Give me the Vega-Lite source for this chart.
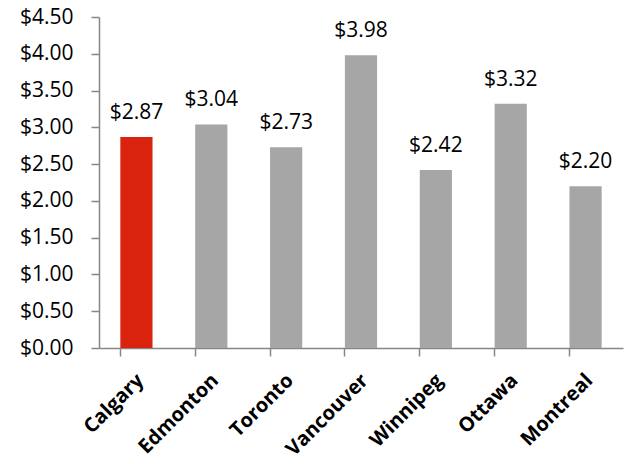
{
  "$schema": "https://vega.github.io/schema/vega-lite/v6.json",
  "autosize": {"type": "none"},
  "padding": {"left": 99, "top": 17, "right": 5, "bottom": 116},
  "width": 524,
  "height": 331,
  "background": "white",
  "config": {"view": {"stroke": null}, "font": "Open Sans"},
  "data": {"values": [
    {"city": "Calgary", "price": 2.87, "highlight": "yes"},
    {"city": "Edmonton", "price": 3.04, "highlight": "no"},
    {"city": "Toronto", "price": 2.73, "highlight": "no"},
    {"city": "Vancouver", "price": 3.98, "highlight": "no"},
    {"city": "Winnipeg", "price": 2.42, "highlight": "no"},
    {"city": "Ottawa", "price": 3.32, "highlight": "no"},
    {"city": "Montreal", "price": 2.20, "highlight": "no"}
  ]},
  "encoding": {
    "x": {"field": "city", "type": "nominal", "sort": null,
      "scale": {"paddingInner": 0.57, "paddingOuter": 0.285},
      "axis": {"title": null, "labelAngle": -45, "labelAlign": "right", "labelBaseline": "middle",
        "labelFontSize": 20, "labelFontWeight": "bold", "labelColor": "#000000", "labelPadding": 21,
        "labelOffset": 4,
        "domainColor": "#868686", "domainWidth": 1.5, "tickColor": "#868686", "tickWidth": 1.5, "tickSize": 8,
        "bandPosition": 0}},
    "y": {"field": "price", "type": "quantitative",
      "scale": {"domain": [0, 4.5]},
      "axis": {"title": null, "values": [0, 0.5, 1, 1.5, 2, 2.5, 3, 3.5, 4, 4.5], "format": "$.2f",
        "grid": false, "labelFontSize": 21, "labelColor": "#000000", "labelPadding": 18,
        "domainColor": "#868686", "domainWidth": 1.5, "tickColor": "#868686", "tickWidth": 1.5, "tickSize": 8}}
  },
  "layer": [
    {"mark": {"type": "bar"},
     "encoding": {"color": {"field": "highlight", "type": "nominal",
       "scale": {"domain": ["yes", "no"], "range": ["#D9230F", "#A6A6A6"]}, "legend": null}}},
    {"mark": {"type": "text", "baseline": "alphabetic", "dy": -18, "fontSize": 21, "color": "#000000"},
     "encoding": {"text": {"field": "price", "type": "quantitative", "format": "$.2f"}}}
  ]
}
